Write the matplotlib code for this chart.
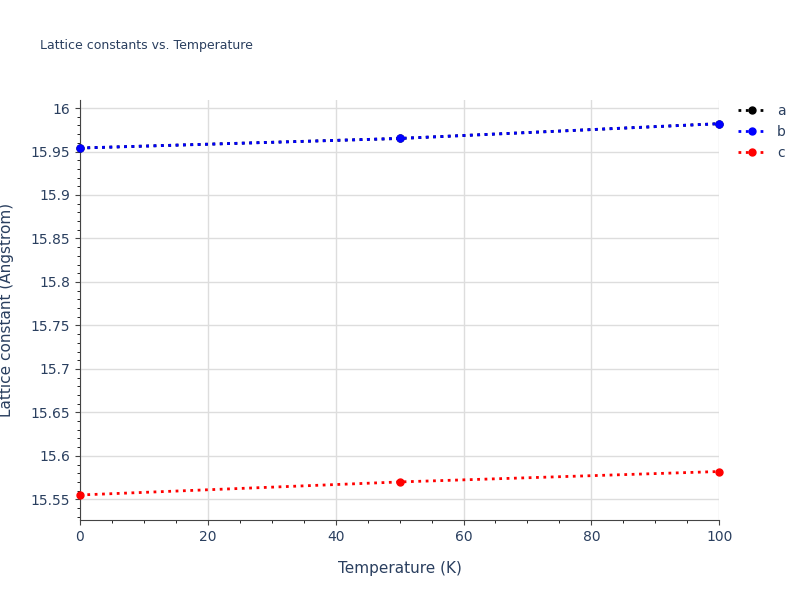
import matplotlib.pyplot as plt
from matplotlib.ticker import MultipleLocator

temps = [0, 50, 100]
lat_a = [15.954, 15.965, 15.982]
lat_b = [15.954, 15.965, 15.982]
lat_c = [15.555, 15.570, 15.582]

fig = plt.figure(figsize=(8, 6), dpi=100)
ax = fig.add_axes([0.1, 0.133, 0.799, 0.7])

txt = "#2a3f5f"
for y, col, lab in [(lat_a, "black", "a"), (lat_b, "blue", "b"), (lat_c, "red", "c")]:
    ax.plot(temps, y, linestyle=":", color=col, lw=2, marker="o", ms=5, label=lab, clip_on=False, zorder=3)

ax.set_xlim(0, 100)
ax.set_ylim(15.526, 16.009)
ax.xaxis.set_major_locator(MultipleLocator(20))
ax.xaxis.set_minor_locator(MultipleLocator(5))
ax.yaxis.set_major_locator(MultipleLocator(0.05))
ax.yaxis.set_minor_locator(MultipleLocator(0.01))
ax.set_yticks(ax.get_yticks())
ax.set_yticklabels(["%g" % round(v, 2) for v in ax.get_yticks()])
ax.set_ylim(15.526, 16.009)
ax.grid(True, which="major", color="#dddddd", lw=1)
for s in ["top", "right"]:
    ax.spines[s].set_visible(False)
for s in ["left", "bottom"]:
    ax.spines[s].set_color("#444444")
ax.tick_params(colors="#444444", labelcolor=txt, labelsize=10)
ax.set_xlabel("Temperature (K)", color=txt, fontsize=11, labelpad=12)
ax.set_ylabel("Lattice constant (Angstrom)", color=txt, fontsize=11, labelpad=12)
fig.text(0.05, 0.918, "Lattice constants vs. Temperature", color=txt, fontsize=9)
ax.legend(loc="upper left", bbox_to_anchor=(1.01, 1.02), frameon=False, fontsize=10,
          labelcolor=txt, handlelength=2)

fig.savefig("out.png")
